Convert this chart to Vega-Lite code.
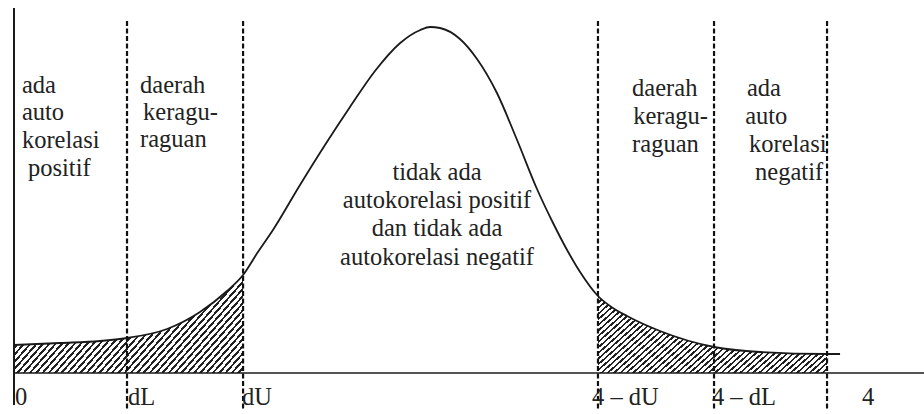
{
"$schema": "https://vega.github.io/schema/vega-lite/v6.json",
"width": 910, "height": 402,
"autosize": {"type": "none"},
"padding": {"left": 14, "top": 8, "right": 0, "bottom": 4},
"background": "white",
"config": {"view": {"stroke": null}},
"datasets": {
"curve": [
{"x":0,"y":0.28,"s":"L"},{"x":0.226,"y":0.30,"s":"L"},{"x":0.423,"y":0.32,"s":"L"},{"x":0.556,"y":0.35,"s":"L"},{"x":0.753,"y":0.44,"s":"L"},{"x":0.915,"y":0.61,"s":"L"},{"x":1.048,"y":0.82,"s":"L"},{"x":1.127,"y":0.98,"s":"L"},
{"x":1.200,"y":1.21,"s":"M"},{"x":1.274,"y":1.43,"s":"M"},{"x":1.407,"y":1.88,"s":"M"},{"x":1.530,"y":2.28,"s":"M"},{"x":1.653,"y":2.66,"s":"M"},{"x":1.776,"y":3.02,"s":"M"},{"x":1.900,"y":3.30,"s":"M"},{"x":1.999,"y":3.43,"s":"M"},{"x":2.047,"y":3.46,"s":"M"},{"x":2.096,"y":3.45,"s":"M"},{"x":2.194,"y":3.34,"s":"M"},{"x":2.278,"y":3.14,"s":"M"},{"x":2.376,"y":2.80,"s":"M"},{"x":2.475,"y":2.33,"s":"M"},{"x":2.573,"y":1.84,"s":"M"},{"x":2.652,"y":1.50,"s":"M"},{"x":2.721,"y":1.23,"s":"M"},{"x":2.785,"y":1.01,"s":"M"},
{"x":2.873,"y":0.77,"s":"R"},{"x":2.947,"y":0.65,"s":"R"},{"x":3.016,"y":0.57,"s":"R"},{"x":3.178,"y":0.42,"s":"R"},{"x":3.444,"y":0.26,"s":"R"},{"x":3.670,"y":0.21,"s":"R"},{"x":4.0,"y":0.19,"s":"R"},
{"x":4.064,"y":0.19,"s":"M"}
],
"cuts": [{"x":0.556,"y":3.52},{"x":1.127,"y":3.52},{"x":2.873,"y":3.52},{"x":3.444,"y":3.52},{"x":4.0,"y":3.52}],
"axisv": [{"x":0,"y":3.65}],
"axish": [{"x":0,"y":0}],
"labels": [
{"x":0.039,"y":2.87,"t":"ada"},{"x":0.039,"y":2.60,"t":"auto"},{"x":0.039,"y":2.32,"t":"korelasi"},{"x":0.069,"y":2.04,"t":"positif"},
{"x":0.620,"y":2.87,"t":"daerah"},{"x":0.635,"y":2.60,"t":"keragu-"},{"x":0.620,"y":2.33,"t":"raguan"},
{"x":3.041,"y":2.84,"t":"daerah"},{"x":3.046,"y":2.56,"t":"keragu-"},{"x":3.041,"y":2.28,"t":"raguan"},
{"x":3.606,"y":2.84,"t":"ada"},{"x":3.597,"y":2.56,"t":"auto"},{"x":3.616,"y":2.28,"t":"korelasi"},{"x":3.646,"y":2.00,"t":"negatif"},
{"x":0.005,"y":-0.25,"t":"0"},{"x":0.561,"y":-0.25,"t":"dL"},{"x":1.122,"y":-0.25,"t":"dU"},{"x":2.844,"y":-0.25,"t":"4 – dU"},{"x":3.434,"y":-0.25,"t":"4 – dL"},{"x":4.172,"y":-0.25,"t":"4"}
],
"center": [
{"x":2.081,"y":2.00,"t":"tidak ada"},{"x":2.081,"y":1.72,"t":"autokorelasi positif"},{"x":2.081,"y":1.44,"t":"dan tidak ada"},{"x":2.081,"y":1.15,"t":"autokorelasi negatif"}
]
},
"encoding": {
"x": {"field": "x", "type": "quantitative", "scale": {"domain": [0, 4.477], "nice": false, "zero": false}, "axis": null},
"y": {"field": "y", "type": "quantitative", "scale": {"domain": [-0.37, 3.65], "nice": false, "zero": false}, "axis": null}
},
"layer": [
{"data": {"name": "curve"}, "transform": [{"filter": "datum.s != 'M'"}],
 "mark": {"type": "area", "interpolate": "monotone", "opacity": 1, "fill": {"gradient": "linear", "x1": 0, "y1": 0, "x2": 1.206, "y2": 0.455, "stops": [
{"offset":0,"color":"#222"},{"offset":0.008,"color":"#222"},{"offset":0.008,"color":"#fff"},{"offset":0.02,"color":"#fff"},
{"offset":0.02,"color":"#222"},{"offset":0.028,"color":"#222"},{"offset":0.028,"color":"#fff"},{"offset":0.04,"color":"#fff"},
{"offset":0.04,"color":"#222"},{"offset":0.048,"color":"#222"},{"offset":0.048,"color":"#fff"},{"offset":0.06,"color":"#fff"},
{"offset":0.06,"color":"#222"},{"offset":0.068,"color":"#222"},{"offset":0.068,"color":"#fff"},{"offset":0.08,"color":"#fff"},
{"offset":0.08,"color":"#222"},{"offset":0.088,"color":"#222"},{"offset":0.088,"color":"#fff"},{"offset":0.1,"color":"#fff"},
{"offset":0.1,"color":"#222"},{"offset":0.108,"color":"#222"},{"offset":0.108,"color":"#fff"},{"offset":0.12,"color":"#fff"},
{"offset":0.12,"color":"#222"},{"offset":0.128,"color":"#222"},{"offset":0.128,"color":"#fff"},{"offset":0.14,"color":"#fff"},
{"offset":0.14,"color":"#222"},{"offset":0.148,"color":"#222"},{"offset":0.148,"color":"#fff"},{"offset":0.16,"color":"#fff"},
{"offset":0.16,"color":"#222"},{"offset":0.168,"color":"#222"},{"offset":0.168,"color":"#fff"},{"offset":0.18,"color":"#fff"},
{"offset":0.18,"color":"#222"},{"offset":0.188,"color":"#222"},{"offset":0.188,"color":"#fff"},{"offset":0.2,"color":"#fff"},
{"offset":0.2,"color":"#222"},{"offset":0.208,"color":"#222"},{"offset":0.208,"color":"#fff"},{"offset":0.22,"color":"#fff"},
{"offset":0.22,"color":"#222"},{"offset":0.228,"color":"#222"},{"offset":0.228,"color":"#fff"},{"offset":0.24,"color":"#fff"},
{"offset":0.24,"color":"#222"},{"offset":0.248,"color":"#222"},{"offset":0.248,"color":"#fff"},{"offset":0.26,"color":"#fff"},
{"offset":0.26,"color":"#222"},{"offset":0.268,"color":"#222"},{"offset":0.268,"color":"#fff"},{"offset":0.28,"color":"#fff"},
{"offset":0.28,"color":"#222"},{"offset":0.288,"color":"#222"},{"offset":0.288,"color":"#fff"},{"offset":0.3,"color":"#fff"},
{"offset":0.3,"color":"#222"},{"offset":0.308,"color":"#222"},{"offset":0.308,"color":"#fff"},{"offset":0.32,"color":"#fff"},
{"offset":0.32,"color":"#222"},{"offset":0.328,"color":"#222"},{"offset":0.328,"color":"#fff"},{"offset":0.34,"color":"#fff"},
{"offset":0.34,"color":"#222"},{"offset":0.348,"color":"#222"},{"offset":0.348,"color":"#fff"},{"offset":0.36,"color":"#fff"},
{"offset":0.36,"color":"#222"},{"offset":0.368,"color":"#222"},{"offset":0.368,"color":"#fff"},{"offset":0.38,"color":"#fff"},
{"offset":0.38,"color":"#222"},{"offset":0.388,"color":"#222"},{"offset":0.388,"color":"#fff"},{"offset":0.4,"color":"#fff"},
{"offset":0.4,"color":"#222"},{"offset":0.408,"color":"#222"},{"offset":0.408,"color":"#fff"},{"offset":0.42,"color":"#fff"},
{"offset":0.42,"color":"#222"},{"offset":0.428,"color":"#222"},{"offset":0.428,"color":"#fff"},{"offset":0.44,"color":"#fff"},
{"offset":0.44,"color":"#222"},{"offset":0.448,"color":"#222"},{"offset":0.448,"color":"#fff"},{"offset":0.46,"color":"#fff"},
{"offset":0.46,"color":"#222"},{"offset":0.468,"color":"#222"},{"offset":0.468,"color":"#fff"},{"offset":0.48,"color":"#fff"},
{"offset":0.48,"color":"#222"},{"offset":0.488,"color":"#222"},{"offset":0.488,"color":"#fff"},{"offset":0.5,"color":"#fff"},
{"offset":0.5,"color":"#222"},{"offset":0.508,"color":"#222"},{"offset":0.508,"color":"#fff"},{"offset":0.52,"color":"#fff"},
{"offset":0.52,"color":"#222"},{"offset":0.528,"color":"#222"},{"offset":0.528,"color":"#fff"},{"offset":0.54,"color":"#fff"},
{"offset":0.54,"color":"#222"},{"offset":0.548,"color":"#222"},{"offset":0.548,"color":"#fff"},{"offset":0.56,"color":"#fff"},
{"offset":0.56,"color":"#222"},{"offset":0.568,"color":"#222"},{"offset":0.568,"color":"#fff"},{"offset":0.58,"color":"#fff"},
{"offset":0.58,"color":"#222"},{"offset":0.588,"color":"#222"},{"offset":0.588,"color":"#fff"},{"offset":0.6,"color":"#fff"},
{"offset":0.6,"color":"#222"},{"offset":0.608,"color":"#222"},{"offset":0.608,"color":"#fff"},{"offset":0.62,"color":"#fff"},
{"offset":0.62,"color":"#222"},{"offset":0.628,"color":"#222"},{"offset":0.628,"color":"#fff"},{"offset":0.64,"color":"#fff"},
{"offset":0.64,"color":"#222"},{"offset":0.648,"color":"#222"},{"offset":0.648,"color":"#fff"},{"offset":0.66,"color":"#fff"},
{"offset":0.66,"color":"#222"},{"offset":0.668,"color":"#222"},{"offset":0.668,"color":"#fff"},{"offset":0.68,"color":"#fff"},
{"offset":0.68,"color":"#222"},{"offset":0.688,"color":"#222"},{"offset":0.688,"color":"#fff"},{"offset":0.7,"color":"#fff"},
{"offset":0.7,"color":"#222"},{"offset":0.708,"color":"#222"},{"offset":0.708,"color":"#fff"},{"offset":0.72,"color":"#fff"},
{"offset":0.72,"color":"#222"},{"offset":0.728,"color":"#222"},{"offset":0.728,"color":"#fff"},{"offset":0.74,"color":"#fff"},
{"offset":0.74,"color":"#222"},{"offset":0.748,"color":"#222"},{"offset":0.748,"color":"#fff"},{"offset":0.76,"color":"#fff"},
{"offset":0.76,"color":"#222"},{"offset":0.768,"color":"#222"},{"offset":0.768,"color":"#fff"},{"offset":0.78,"color":"#fff"},
{"offset":0.78,"color":"#222"},{"offset":0.788,"color":"#222"},{"offset":0.788,"color":"#fff"},{"offset":0.8,"color":"#fff"},
{"offset":0.8,"color":"#222"},{"offset":0.808,"color":"#222"},{"offset":0.808,"color":"#fff"},{"offset":0.82,"color":"#fff"},
{"offset":0.82,"color":"#222"},{"offset":0.828,"color":"#222"},{"offset":0.828,"color":"#fff"},{"offset":0.84,"color":"#fff"},
{"offset":0.84,"color":"#222"},{"offset":0.848,"color":"#222"},{"offset":0.848,"color":"#fff"},{"offset":0.86,"color":"#fff"},
{"offset":0.86,"color":"#222"},{"offset":0.868,"color":"#222"},{"offset":0.868,"color":"#fff"},{"offset":0.88,"color":"#fff"},
{"offset":0.88,"color":"#222"},{"offset":0.888,"color":"#222"},{"offset":0.888,"color":"#fff"},{"offset":0.9,"color":"#fff"},
{"offset":0.9,"color":"#222"},{"offset":0.908,"color":"#222"},{"offset":0.908,"color":"#fff"},{"offset":0.92,"color":"#fff"},
{"offset":0.92,"color":"#222"},{"offset":0.928,"color":"#222"},{"offset":0.928,"color":"#fff"},{"offset":0.94,"color":"#fff"},
{"offset":0.94,"color":"#222"},{"offset":0.948,"color":"#222"},{"offset":0.948,"color":"#fff"},{"offset":0.96,"color":"#fff"},
{"offset":0.96,"color":"#222"},{"offset":0.968,"color":"#222"},{"offset":0.968,"color":"#fff"},{"offset":0.98,"color":"#fff"},
{"offset":0.98,"color":"#222"},{"offset":0.988,"color":"#222"},{"offset":0.988,"color":"#fff"},{"offset":1,"color":"#fff"}
]}},
 "encoding": {"y2": {"datum": 0}, "detail": {"field": "s"}}},
{"data": {"name": "curve"}, "mark": {"type": "line", "interpolate": "monotone", "stroke": "#1a1a1a", "strokeWidth": 1.8}, "encoding": {}},
{"data": {"name": "cuts"}, "mark": {"type": "rule", "stroke": "#111", "strokeWidth": 2.2, "strokeDash": [5, 2.5]},
 "encoding": {"y2": {"datum": -0.37}}},
{"data": {"name": "axisv"}, "mark": {"type": "rule", "stroke": "#1a1a1a", "strokeWidth": 2},
 "encoding": {"y2": {"datum": -0.32}}},
{"data": {"name": "axish"}, "mark": {"type": "rule", "stroke": "#1a1a1a", "strokeWidth": 1.6},
 "encoding": {"x2": {"datum": 4.477}}},
{"data": {"name": "labels"}, "mark": {"type": "text", "align": "left", "baseline": "middle", "font": "Liberation Serif", "fontSize": 24.5, "fill": "#222"}, "encoding": {"text": {"field": "t"}}},
{"data": {"name": "center"}, "mark": {"type": "text", "align": "center", "baseline": "middle", "font": "Liberation Serif", "fontSize": 24.5, "fill": "#222"}, "encoding": {"text": {"field": "t"}}}
]
}
